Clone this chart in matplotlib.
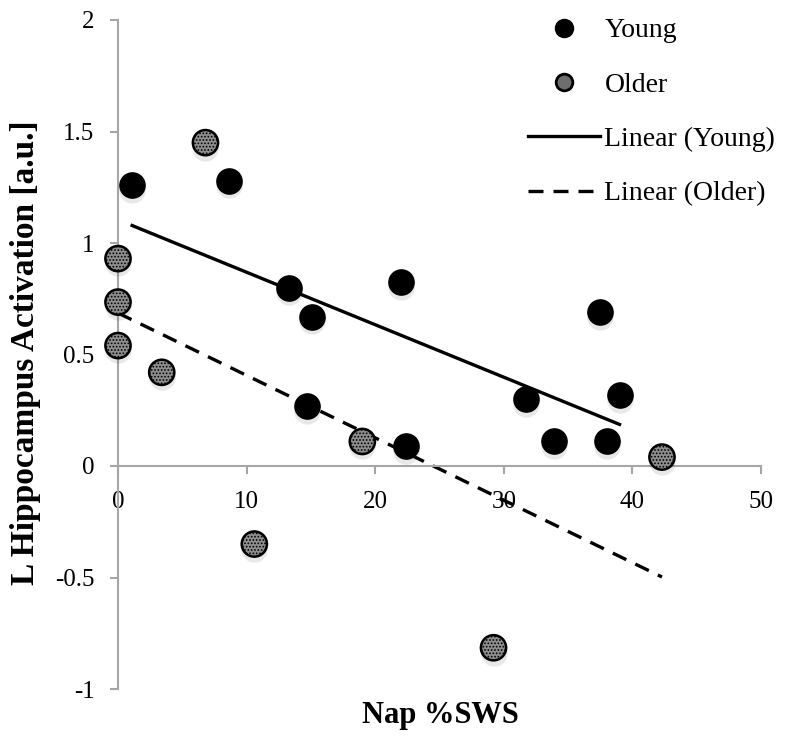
import numpy as np
import matplotlib
matplotlib.use("Agg")
import matplotlib.pyplot as plt
from matplotlib.lines import Line2D
from matplotlib.transforms import offset_copy

plt.rcParams['font.family'] = ['Liberation Serif', 'DejaVu Serif']
plt.rcParams['hatch.color'] = '#5a5a5a'
plt.rcParams['hatch.linewidth'] = 0.8

young_x = [1.1, 8.6, 13.3, 15.1, 22.0, 14.7, 22.4, 31.7, 33.9, 37.5, 38.0, 39.0]
young_y = [1.26, 1.28, 0.80, 0.67, 0.825, 0.27, 0.09, 0.30, 0.11, 0.69, 0.11, 0.32]
older_x = [0.0, 0.0, 0.0, 3.4, 6.8, 10.6, 19.0, 29.2, 42.3]
older_y = [0.93, 0.735, 0.54, 0.42, 1.45, -0.35, 0.11, -0.815, 0.04]

x_ticks = [0, 10, 20, 30, 40, 50]
y_ticks = [-1, -0.5, 0, 0.5, 1, 1.5, 2]
y_ticklabels = ['-1', '-0.5', '0', '0.5', '1', '1.5', '2']

fig = plt.figure(figsize=(7.89, 7.38), dpi=100)
ax = fig.add_axes([118/789, 1-689/738, (761-118)/789, (689-20)/738])
ax.set_xlim(0, 50)
ax.set_ylim(-1, 2)

spine_c = '#a6a6a6'
for s in ['top', 'right']:
    ax.spines[s].set_visible(False)
ax.spines['left'].set_position(('data', 0))
ax.spines['bottom'].set_position(('data', 0))
ax.spines['left'].set_color(spine_c)
ax.spines['bottom'].set_color(spine_c)
ax.spines['left'].set_linewidth(1.5)
ax.spines['bottom'].set_linewidth(1.5)
ax.set_xticks(x_ticks)
ax.set_yticks(y_ticks)
ax.set_yticklabels(y_ticklabels)
ax.tick_params(axis='both', direction='out', color=spine_c, length=6, width=1.5,
               labelsize=18, pad=11)
ax.tick_params(axis='x', pad=12)

# trend lines
yx = np.array(young_x); yy = np.array(young_y)
ox = np.array(older_x); oy = np.array(older_y)
py = np.polyfit(yx, yy, 1)
po = np.polyfit(ox, oy, 1)
xy_line = np.array([yx.min(), yx.max()])
xo_line = np.array([ox.min(), ox.max()])
ax.plot(xy_line, np.polyval(py, xy_line), color='black', lw=2.4, zorder=2)
ax.plot(xo_line, np.polyval(po, xo_line), color='black', lw=2.4, ls=(0, (4.5, 3)), zorder=2)

# soft shadows
shadow_tr = offset_copy(ax.transData, fig=fig, x=0, y=-3.5, units='points')
ax.scatter(young_x + older_x, young_y + older_y, s=360, color='black', alpha=0.09,
           linewidth=0, transform=shadow_tr, zorder=3, clip_on=False)

ax.scatter(young_x, young_y, s=330, color='black', zorder=4, clip_on=False)
ax.scatter(older_x, older_y, s=330, facecolor='#8e8e8e', edgecolor='black', linewidth=1.8,
           hatch='.....', zorder=4, clip_on=False)

fig.text(440/789, 1-716/738, 'Nap %SWS', fontsize=22, fontweight='bold', ha='center', va='center')
fig.text(26/789, 1-353/738, 'L Hippocampus Activation [a.u.]', fontsize=24, fontweight='bold',
         rotation=90, ha='center', va='center')

handles = [
    Line2D([], [], marker='o', color='black', ls='none', markersize=13),
    Line2D([], [], marker='o', markerfacecolor='#6e6e6e', markeredgecolor='black', ls='none',
           markersize=12, markeredgewidth=2),
    Line2D([], [], color='black', lw=2.4),
    Line2D([], [], color='black', lw=2.4, ls=(0, (4.5, 3))),
]
labels = ['Young', 'Older', 'Linear (Young)', 'Linear (Older)']
fig.legend(handles, labels, loc='upper left', bbox_to_anchor=(528/789, 1-18/738),
           frameon=False, fontsize=20, handlelength=2.6, handletextpad=0.15,
           labelspacing=1.04, borderaxespad=0, borderpad=0)

fig.savefig('out.png', dpi=100)
